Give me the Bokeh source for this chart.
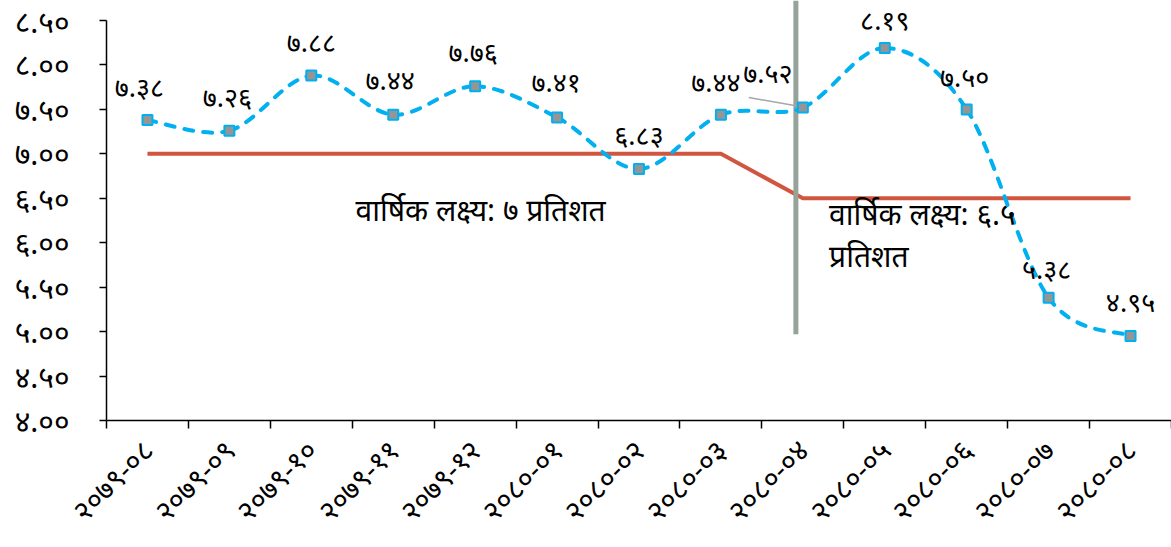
import math
from bokeh.plotting import figure
from bokeh.models import FixedTicker, Range1d, ColumnDataSource
from bokeh.core.properties import value
from bokeh.embed import file_html
from bokeh.resources import INLINE

# ---- data ----
months = ["२०७९-०८", "२०७९-०९", "२०७९-१०", "२०७९-११", "२०७९-१२", "२०८०-०१",
          "२०८०-०२", "२०८०-०३", "२०८०-०४", "२०८०-०५", "२०८०-०६", "२०८०-०७", "२०८०-०८"]
inflation = [7.38, 7.26, 7.88, 7.44, 7.76, 7.41, 6.83, 7.44, 7.52, 8.19, 7.50, 5.38, 4.95]
target = [7.0, 7.0, 7.0, 7.0, 7.0, 7.0, 7.0, 7.0, 6.5, 6.5, 6.5, 6.5, 6.5]
y_ticks = [4.0, 4.5, 5.0, 5.5, 6.0, 6.5, 7.0, 7.5, 8.0, 8.5]
note_first = "वार्षिक लक्ष्य: ७ प्रतिशत"
note_second = ["वार्षिक लक्ष्य: ६.५", "प्रतिशत"]
divider_month = "२०८०-०४"
divider_bottom = 4.97

DEV = str.maketrans("0123456789", "०१२३४५६७८९")
def dev(v):
    return ("%.2f" % v).translate(DEV)

FONT = "Noto Sans"
BLUE = "#00B0F0"
RED = "#D0563F"
Y_TOP = 8.725

n = len(months)
xs = [i + 0.5 for i in range(n)]

p = figure(width=1171, height=547, title=None,
           x_range=Range1d(0, n), y_range=Range1d(4.0, Y_TOP),
           output_backend="svg", toolbar_location=None,
           min_border_left=106, min_border_right=0, min_border_top=0, min_border_bottom=127)
p.outline_line_color = None
p.xgrid.visible = False
p.ygrid.visible = False
p.background_fill_color = "white"

# target line
p.line(xs, target, line_color=RED, line_width=4)

# divider
dx = months.index(divider_month) + 0.5 - 0.085
p.segment(x0=[dx], y0=[divider_bottom], x1=[dx], y1=[Y_TOP], line_color="#96A39A", line_width=5)

# smoothed inflation line (Catmull-Rom style bezier through data points)
x0s, y0s, x1s, y1s, cx0, cy0, cx1, cy1 = [], [], [], [], [], [], [], []
for i in range(n - 1):
    a = max(i - 1, 0); d = min(i + 2, n - 1)
    x0s.append(xs[i]); y0s.append(inflation[i])
    x1s.append(xs[i + 1]); y1s.append(inflation[i + 1])
    cx0.append(xs[i] + (xs[i + 1] - xs[a]) / 6.0)
    cy0.append(inflation[i] + (inflation[i + 1] - inflation[a]) / 6.0)
    cx1.append(xs[i + 1] - (xs[d] - xs[i]) / 6.0)
    cy1.append(inflation[i + 1] - (inflation[d] - inflation[i]) / 6.0)
p.bezier(x0=x0s, y0=y0s, x1=x1s, y1=y1s, cx0=cx0, cy0=cy0, cx1=cx1, cy1=cy1,
         line_color=BLUE, line_width=4, line_dash="9 10", line_cap="round")
p.scatter(xs, inflation, marker="square", size=10, fill_color="#959595",
          line_color=BLUE, line_width=2)

# data labels
label_dx = [-8, -2, 0, -3, -2, -1, 0, -5, -35, 0, -2, -2, 0]
label_dy = [-34, -34, -34, -35, -35, -36, -34, -33, -35, -29, -33, -29, -35]
src = ColumnDataSource(dict(x=xs, y=inflation, t=[dev(v) for v in inflation], xo=label_dx, yo=label_dy))
p.text(x="x", y="y", text="t", x_offset="xo", y_offset="yo", source=src,
       text_align="center", text_baseline="middle", text_font=value(FONT),
       text_font_size="27px", text_color="black")
# leader line for label of divider month
i9 = months.index(divider_month)
p.segment(x0=[xs[i9] - 0.66], y0=[inflation[i9] + 0.114], x1=[dx], y1=[inflation[i9] + 0.02],
          line_color="#A6A6A6", line_width=1.5)

# target notes
p.text(x=[3.04], y=[6.374], text=[note_first], text_align="left", text_baseline="middle",
       text_font=value(FONT), text_font_size="30px", text_color="black")
p.text(x=[8.82, 8.82], y=[6.329, 5.857], text=note_second, text_align="left", text_baseline="middle",
       text_font=value(FONT), text_font_size="30px", text_color="black")

# axes
xa = p.xaxis[0]
xa.ticker = FixedTicker(ticks=xs, minor_ticks=list(range(n + 1)))
xa.major_label_overrides = {x: m for x, m in zip(xs, months)}
xa.major_label_orientation = math.pi / 4
xa.major_tick_out = 0
xa.major_tick_in = 0
xa.minor_tick_out = 8
xa.minor_tick_in = 0
xa.minor_tick_line_color = "black"
xa.minor_tick_line_width = 1.5
xa.axis_line_color = "black"
xa.axis_line_width = 1.5
xa.major_label_text_font = FONT
xa.major_label_text_font_size = "29px"
xa.major_label_text_color = "black"
xa.major_label_standoff = 16

ya = p.yaxis[0]
ya.ticker = FixedTicker(ticks=y_ticks, minor_ticks=[])
ya.bounds = (4.0, 8.5)
ya.major_label_overrides = {t: dev(t) for t in y_ticks}
ya.major_tick_out = 7
ya.major_tick_in = 0
ya.major_tick_line_width = 1.5
ya.axis_line_width = 1.5
ya.axis_line_color = "black"
ya.major_label_text_font = FONT
ya.major_label_text_font_size = "30px"
ya.major_label_text_color = "black"
ya.major_label_standoff = 30

open("out.html", "w").write(file_html(p, INLINE))
